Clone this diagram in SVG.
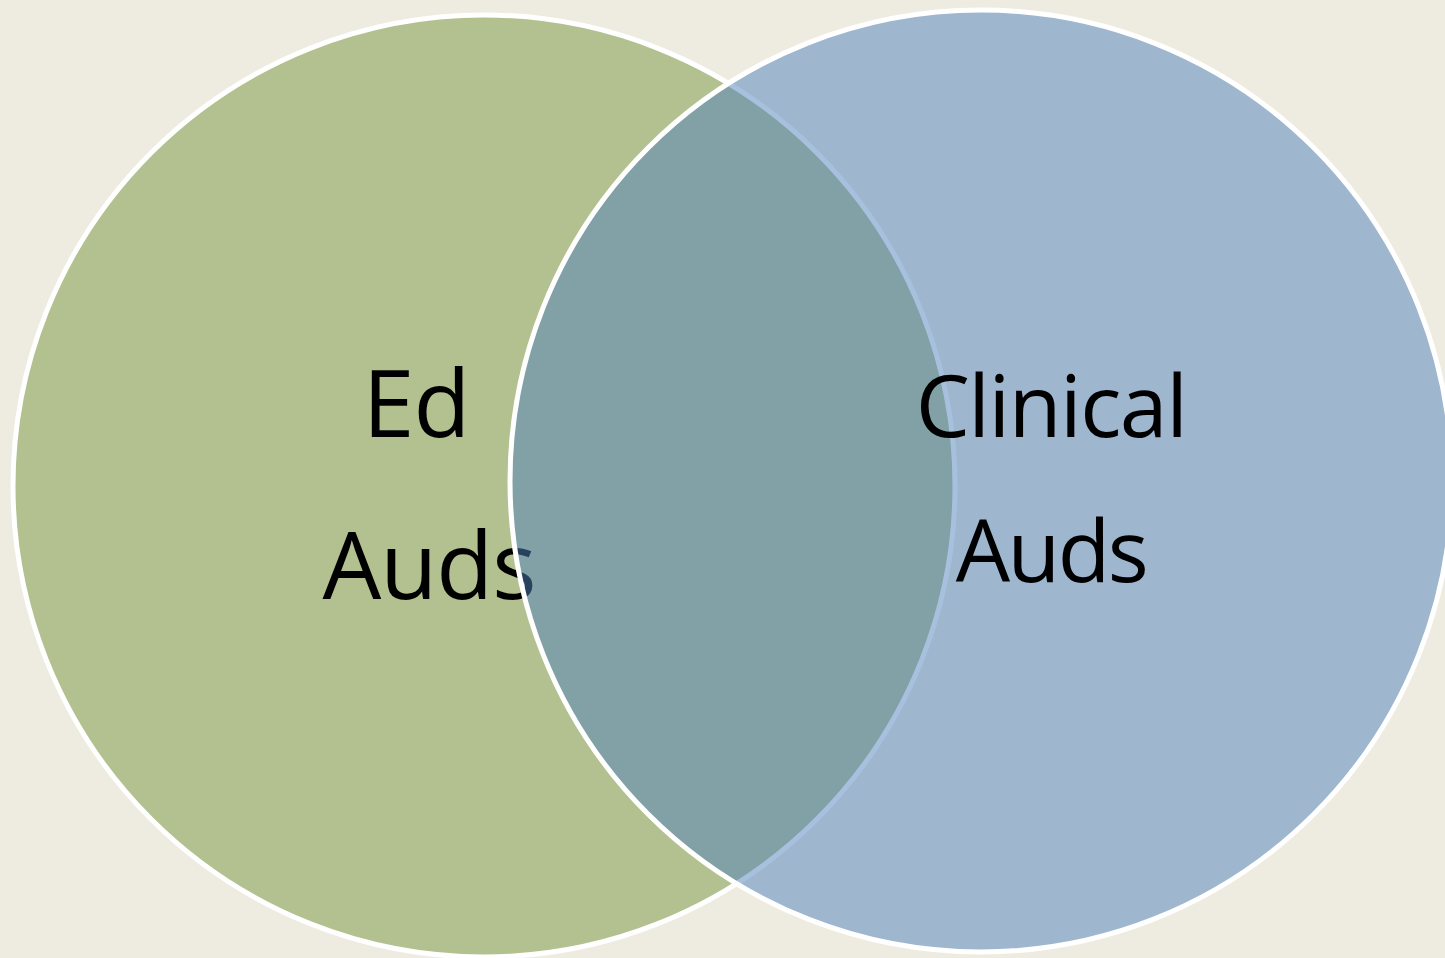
<svg xmlns="http://www.w3.org/2000/svg" width="1445" height="958" viewBox="0 0 1445 958">
<style>
.lbl{font-family:"Open Sans","Liberation Sans",sans-serif;fill:#000;}
</style>
<rect width="1445" height="958" fill="#EEEBE0"/>
<g id="ed">
<circle cx="484" cy="486" r="471" fill="#B2C18F" stroke="#FFFFFF" stroke-width="5"/>
<text class="lbl" x="416" y="437" font-size="93" text-anchor="middle" letter-spacing="-1">Ed</text>
<text class="lbl" x="429" y="599" font-size="93" text-anchor="middle" letter-spacing="-1">Auds</text>
</g>
<g id="clinical">
<circle cx="981" cy="481" r="471" fill="#4F81BD" fill-opacity="0.5" stroke="#FFFFFF" stroke-width="5"/>
<text class="lbl" x="1051" y="437" font-size="86" text-anchor="middle" letter-spacing="-1.5">Clinical</text>
<text class="lbl" x="1051" y="582" font-size="86" text-anchor="middle" letter-spacing="-2.5">Auds</text>
</g>
<g id="connectors"></g>
</svg>
